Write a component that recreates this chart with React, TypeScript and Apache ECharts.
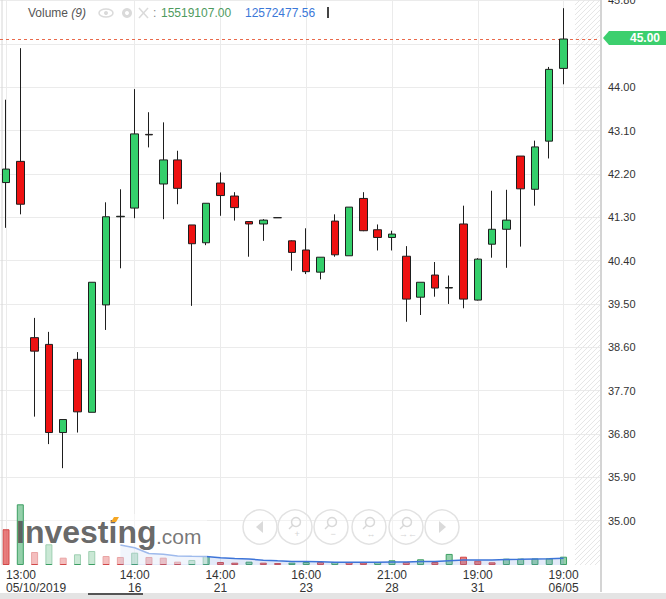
import React, { useEffect, useRef } from 'react';
import * as echarts from 'echarts';

// ---- data ----
const opens = [42.02, 42.46, 38.80, 38.66, 36.83, 38.35, 37.25, 39.48, 41.31, 41.49, 43.02, 41.99, 42.49, 41.14, 40.77, 42.01, 41.74, 41.21, 41.16, 41.29, 40.81, 40.62, 40.16, 41.22, 40.50, 41.69, 41.04, 40.88, 40.49, 39.64, 40.10, 39.83, 41.16, 39.58, 40.74, 41.05, 42.57, 41.88, 42.88, 44.39];
const closes = [42.30, 41.57, 38.52, 36.83, 37.10, 37.26, 39.95, 41.31, 41.32, 43.03, 43.01, 42.49, 41.90, 40.75, 41.59, 41.75, 41.50, 41.16, 41.24, 41.29, 40.57, 40.17, 40.47, 40.52, 41.51, 41.02, 40.88, 40.95, 39.60, 39.95, 39.83, 39.84, 39.60, 40.43, 41.05, 41.24, 41.89, 42.76, 44.37, 45.00];
const lows = [41.08, 41.36, 37.16, 36.59, 36.09, 36.83, 37.25, 38.96, 40.24, 41.28, 42.75, 41.26, 41.57, 39.46, 40.72, 41.33, 41.23, 40.48, 40.81, 41.29, 40.19, 40.12, 40.01, 40.48, 40.50, 41.01, 40.61, 40.61, 39.13, 39.27, 39.65, 39.50, 39.41, 39.57, 40.46, 40.25, 40.69, 41.54, 42.52, 44.06];
const highs = [43.74, 44.81, 39.21, 38.92, 37.10, 38.50, 39.95, 41.61, 41.88, 43.96, 43.48, 43.27, 42.68, 41.14, 41.59, 42.23, 41.82, 41.21, 41.26, 41.29, 40.82, 41.07, 40.47, 41.36, 41.51, 41.82, 41.15, 41.02, 40.70, 39.95, 40.37, 40.09, 41.54, 40.45, 41.85, 41.87, 42.57, 42.89, 44.42, 45.64];
const volumes = [66800000, 113500000, 24300000, 38700000, 13700000, 20000000, 26200000, 16800000, 15000000, 23000000, 15000000, 13700000, 6200000, 9400000, 16800000, 5600000, 4300000, 6200000, 4300000, 3700000, 4300000, 5600000, 5500000, 5600000, 5400000, 4700000, 5600000, 8800000, 5600000, 10700000, 5600000, 20700000, 15500000, 8000000, 5000000, 11800000, 12000000, 12200000, 12433191, 15519107];

const tickIndex = [0, 9, 15, 21, 27, 33, 39];
const tickLabels = ['13:00\n05/10/2019', '14:00\n16', '14:00\n21', '16:00\n23', '21:00\n28', '19:00\n31', '19:00\n06/05'];
const priceTicks = [35.0, 35.9, 36.8, 37.7, 38.6, 39.5, 40.4, 41.3, 42.2, 43.1, 44.0, 44.9, 45.8];
const lastPrice = 45.0;
const maPeriod = 9;

const FONT = 'Liberation Sans, Arial, sans-serif';
const UP = '#34cf6b';
const DOWN = '#ee1111';

export default function App() {
  const ref = useRef<HTMLDivElement>(null);

  useEffect(() => {
    const el = ref.current!;
    const chart = echarts.init(el, null, { renderer: 'svg' });
    const n = opens.length;

    const candleData = opens.map((o, i) => [i, o, closes[i], lows[i], highs[i]]);
    const volData = volumes.map((v, i) => {
      const up = i > 0 && v > volumes[i - 1];
      return {
        value: [i, v],
        itemStyle: {
          color: up ? 'rgba(60,170,100,0.55)' : 'rgba(222,70,70,0.7)',
          borderColor: up ? '#3c9f63' : '#d24848',
          borderWidth: 1,
        },
      };
    });
    const ma: number[][] = [];
    for (let i = maPeriod - 1; i < n; i++) {
      let s = 0;
      for (let k = i - maPeriod + 1; k <= i; k++) s += volumes[k];
      ma.push([i, s / maPeriod]);
    }

    // labels hidden behind the last-price badge are not shown (as in the reference)
    const labelTicks = priceTicks.filter((t) => Math.abs(t - lastPrice) > 0.2);

    const xMin = -0.42;
    const xMax = 41.55;

    chart.setOption({
      animation: false,
      backgroundColor: '#ffffff',
      textStyle: { fontFamily: FONT },
      grid: [
        { left: 0, right: 66, top: 0, bottom: 34, outerBoundsMode: 'none', containLabel: false },
        { left: 0, right: 66, top: 465, bottom: 34, outerBoundsMode: 'none', containLabel: false },
      ],
      xAxis: [
        {
          type: 'value',
          gridIndex: 0,
          min: xMin,
          max: xMax,
          axisLine: { show: false },
          axisTick: { show: false, customValues: tickIndex },
          axisLabel: {
            customValues: tickIndex,
            formatter: (v: number) => tickLabels[tickIndex.indexOf(Math.round(v))] ?? '',
            color: '#333',
            fontSize: 12,
            lineHeight: 13,
            margin: 3,
            fontFamily: FONT,
            alignMinLabel: 'left',
          },
          splitLine: { show: true, lineStyle: { color: '#ebebeb', width: 1 } },
        },
        {
          type: 'value',
          gridIndex: 1,
          min: xMin,
          max: xMax,
          show: false,
          splitLine: { show: false },
        },
      ],
      yAxis: [
        {
          type: 'value',
          gridIndex: 0,
          position: 'right',
          min: 34.08,
          max: 45.81,
          axisLine: { show: false },
          axisTick: { show: false, customValues: priceTicks },
          axisLabel: {
            customValues: labelTicks,
            formatter: (v: number) => v.toFixed(2),
            color: '#333',
            fontSize: 11,
            margin: 8,
            fontFamily: FONT,
          },
          splitLine: { show: true, lineStyle: { color: '#ebebeb', width: 1 } },
        },
        {
          type: 'value',
          gridIndex: 1,
          min: 0,
          max: 187000000,
          show: false,
          splitLine: { show: false },
        },
      ],
      series: [
        {
          type: 'bar',
          xAxisIndex: 1,
          yAxisIndex: 1,
          data: volData,
          barWidth: 7,
          z: 1,
        },
        {
          type: 'line',
          xAxisIndex: 1,
          yAxisIndex: 1,
          data: ma,
          symbol: 'none',
          lineStyle: { color: '#3d74d8', width: 1.5 },
          areaStyle: { color: 'rgba(110,150,225,0.28)' },
          z: 2,
        },
        {
          type: 'candlestick',
          xAxisIndex: 0,
          yAxisIndex: 0,
          data: candleData,
          barWidth: 8,
          itemStyle: {
            color: UP,
            color0: DOWN,
            borderColor: '#1e1e1e',
            borderColor0: '#1e1e1e',
            borderColorDoji: '#1e1e1e',
            borderWidth: 1,
          },
          markLine: {
            silent: true,
            symbol: 'none',
            label: { show: false },
            lineStyle: { color: '#ea6a4c', type: [3, 3], width: 1 },
            data: [{ yAxis: lastPrice }],
          },
          z: 5,
        },
      ],
    });

    // ---- decorations positioned from the scales ----
    const yLast = chart.convertToPixel({ yAxisIndex: 0 }, lastPrice) as number;
    const plotRight = chart.convertToPixel({ xAxisIndex: 0 }, xMax) as number;
    const hatchLeft = chart.convertToPixel({ xAxisIndex: 0 }, 39.8) as number;
    const plotBottom = chart.convertToPixel({ yAxisIndex: 0 }, 34.08) as number;

    const g: any[] = [];

    // hatched future area
    const hw = plotRight - hatchLeft;
    for (let k = 0; k < plotBottom + hw; k += 5) {
      let x1 = hatchLeft, y1 = k;
      let x2 = hatchLeft + hw, y2 = k - hw;
      if (y1 > plotBottom) { x1 = hatchLeft + (y1 - plotBottom); y1 = plotBottom; }
      if (y2 < 0) { x2 = hatchLeft + k; y2 = 0; }
      if (x2 <= x1) continue;
      g.push({ type: 'line', silent: true, z: 0, shape: { x1, y1, x2, y2 }, style: { stroke: '#e6e6e6', lineWidth: 1 } });
    }

    // left border and axis separator
    g.push({ type: 'line', silent: true, z: 3, shape: { x1: 2, y1: 0, x2: 2, y2: plotBottom }, style: { stroke: '#d6d6d6', lineWidth: 1 } });
    g.push({ type: 'line', silent: true, z: 3, shape: { x1: plotRight + 1, y1: 0, x2: plotRight + 1, y2: 592 }, style: { stroke: '#d4d4d4', lineWidth: 2 } });

    // bottom bar
    g.push({ type: 'rect', silent: true, z: 3, shape: { x: 0, y: 593, width: 666, height: 6 }, style: { fill: '#e4e4e4' } });
    g.push({ type: 'rect', silent: true, z: 3, shape: { x: 88, y: 593, width: 55, height: 2 }, style: { fill: '#555' } });

    // watermark
    g.push({ type: 'rect', silent: true, z: 50, shape: { x: 27, y: 514, width: 180, height: plotBottom - 515 }, style: { fill: 'rgba(255,255,255,0.5)' } });
    g.push({ type: 'text', silent: true, z: 51, x: 16, y: 532, style: { text: 'Investing', font: `bold 32px ${FONT}`, fill: 'rgba(85,85,85,0.9)', verticalAlign: 'middle', align: 'left' } });
    g.push({ type: 'text', silent: true, z: 51, x: 156, y: 536, style: { text: '.com', font: `21px ${FONT}`, fill: 'rgba(95,95,95,0.85)', verticalAlign: 'middle', align: 'left' } });
    g.push({ type: 'polygon', silent: true, z: 52, shape: { points: [[111, 522], [114, 517], [119, 517], [116, 522]] }, style: { fill: '#f5a623' } });

    // navigation buttons
    const navX = [260, 295, 331, 369, 406, 442];
    const cy = 527;
    navX.forEach((cx, i) => {
      g.push({ type: 'circle', silent: true, z: 53, shape: { cx, cy, r: 17 }, style: { fill: 'rgba(255,255,255,0.35)', stroke: '#e2e2e2', lineWidth: 1.5 } });
      if (i === 0) {
        g.push({ type: 'polygon', silent: true, z: 54, shape: { points: [[cx + 3, cy - 6], [cx - 4, cy], [cx + 3, cy + 6]] }, style: { fill: '#dadada' } });
      } else if (i === 5) {
        g.push({ type: 'polygon', silent: true, z: 54, shape: { points: [[cx - 3, cy - 6], [cx + 4, cy], [cx - 3, cy + 6]] }, style: { fill: '#dadada' } });
      } else {
        g.push({ type: 'circle', silent: true, z: 54, shape: { cx: cx + 1, cy: cy - 5, r: 4.5 }, style: { fill: 'none', stroke: '#d8d8d8', lineWidth: 1.5 } });
        g.push({ type: 'line', silent: true, z: 54, shape: { x1: cx - 2, y1: cy - 2, x2: cx - 6, y2: cy + 2 }, style: { stroke: '#d8d8d8', lineWidth: 1.5 } });
        const sym = ['', '+', '−', '↔', '→←'][i];
        g.push({ type: 'text', silent: true, z: 54, x: cx + 2, y: cy + 7, style: { text: sym, font: `9px ${FONT}`, fill: '#d4d4d4', align: 'center', verticalAlign: 'middle' } });
      }
    });

    // last price badge
    const by = yLast - 1;
    const bx = plotRight + 3;
    g.push({ type: 'polygon', silent: true, z: 60, shape: { points: [[bx, by], [bx + 6, by - 7], [666, by - 7], [666, by + 7], [bx + 6, by + 7]] }, style: { fill: '#3ccf6e' } });
    g.push({ type: 'text', silent: true, z: 61, x: 660, y: by, style: { text: lastPrice.toFixed(2), font: `bold 12px ${FONT}`, fill: '#ffffff', align: 'right', verticalAlign: 'middle' } });

    // volume legend
    const lastVol = volumes[n - 1];
    const lastMa = ma[ma.length - 1][1];
    const ly = 13;
    g.push({ type: 'text', silent: true, z: 61, x: 28, y: ly, style: { text: '{a|Volume }{b|(9)}', rich: { a: { font: `12px ${FONT}`, fill: '#555' }, b: { font: `italic 12px ${FONT}`, fill: '#555' } }, verticalAlign: 'middle', align: 'left' } });
    g.push({ type: 'ellipse', silent: true, z: 61, shape: { cx: 106, cy: ly, rx: 7, ry: 4 }, style: { fill: 'none', stroke: '#dadada', lineWidth: 1.5 } });
    g.push({ type: 'circle', silent: true, z: 61, shape: { cx: 106, cy: ly, r: 2 }, style: { fill: '#dadada' } });
    g.push({ type: 'ring', silent: true, z: 61, shape: { cx: 127, cy: ly, r: 5, r0: 2 }, style: { fill: '#dadada' } });
    g.push({ type: 'line', silent: true, z: 61, shape: { x1: 139, y1: ly - 5, x2: 148, y2: ly + 5 }, style: { stroke: '#dadada', lineWidth: 1.5 } });
    g.push({ type: 'line', silent: true, z: 61, shape: { x1: 148, y1: ly - 5, x2: 139, y2: ly + 5 }, style: { stroke: '#dadada', lineWidth: 1.5 } });
    g.push({ type: 'text', silent: true, z: 61, x: 153, y: ly, style: { text: ':', font: `12px ${FONT}`, fill: '#888', verticalAlign: 'middle', align: 'left' } });
    g.push({ type: 'text', silent: true, z: 61, x: 161, y: ly, style: { text: lastVol.toFixed(2), font: `12px ${FONT}`, fill: '#4e9a5e', verticalAlign: 'middle', align: 'left' } });
    g.push({ type: 'text', silent: true, z: 61, x: 245, y: ly, style: { text: lastMa.toFixed(2), font: `12px ${FONT}`, fill: '#3b78d8', verticalAlign: 'middle', align: 'left' } });
    g.push({ type: 'rect', silent: true, z: 61, shape: { x: 327, y: ly - 6, width: 2, height: 11 }, style: { fill: '#444' } });

    chart.setOption({ graphic: { elements: g } });

    return () => chart.dispose();
  }, []);

  return (
    <div
      ref={ref}
      style={{ position: 'fixed', left: 0, top: 0, width: 666, height: 599, background: '#fff' }}
    />
  );
}
